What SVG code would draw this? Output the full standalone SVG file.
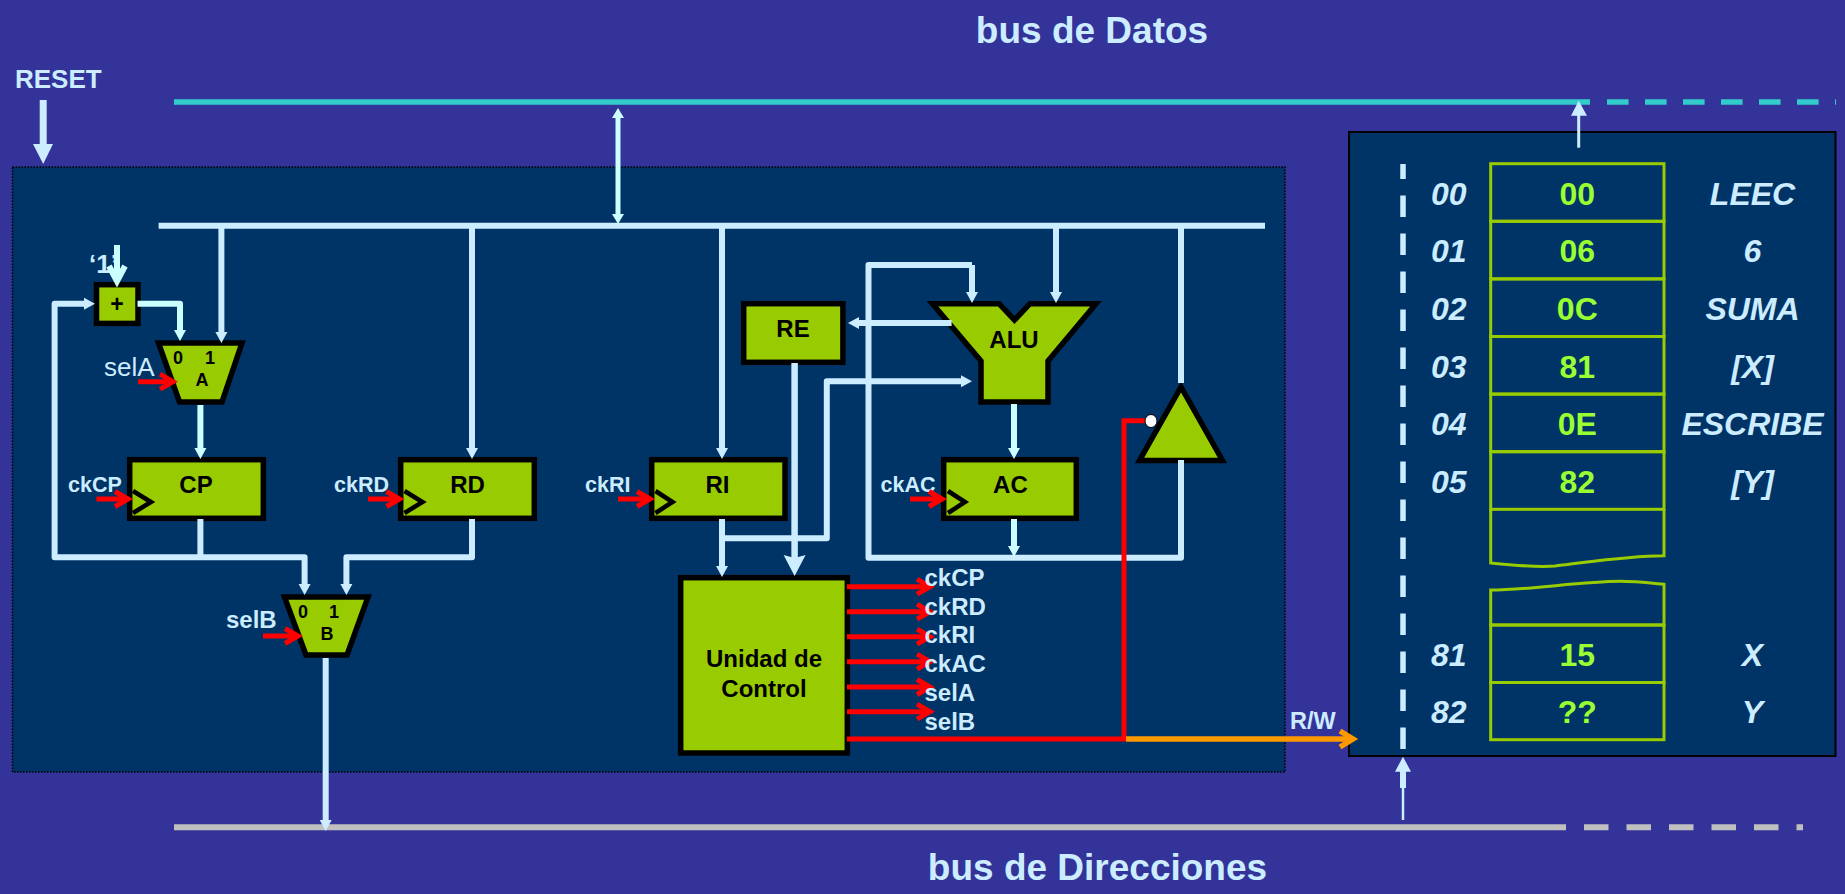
<svg xmlns="http://www.w3.org/2000/svg" width="1845" height="894" viewBox="0 0 1845 894">
<style>
text{font-family:"Liberation Sans",Arial,sans-serif;font-weight:bold}
.box{fill:#99CC00;stroke:#000;stroke-width:5.5}
.t{fill:#000;font-size:24px;text-anchor:middle}
.s{fill:#000;font-size:18px;text-anchor:middle}
.l{fill:#CCECFF}
.sig{font-size:24px}
.ck{font-size:21.5px}
.w{fill:none;stroke:#CCECFF;stroke-width:6;stroke-linejoin:round;marker-end:url(#h)}
.w2{fill:none;stroke:#CCFFFF;stroke-width:6;stroke-linejoin:round;marker-end:url(#h2)}
.p{fill:none;stroke:#CCECFF;stroke-width:6;stroke-linejoin:round}
.r{fill:none;stroke:#FF0000;stroke-width:5;marker-end:url(#rc)}
.cl{fill:none;stroke:#000;stroke-width:4.5}
.cell{fill:none;stroke:#99CC00;stroke-width:3}
.ad{font-size:32px;font-style:italic;fill:#CCECFF}
.va{font-size:32px;fill:#99FF33;text-anchor:middle}
.nm{font-size:32px;font-style:italic;fill:#CCECFF;text-anchor:middle}
</style>
<defs>
<marker id="h" markerUnits="userSpaceOnUse" markerWidth="12" markerHeight="12" refX="0" refY="0" orient="auto" overflow="visible"><path d="M0,-6 L11,0 L0,6Z" fill="#CCECFF"/></marker>
<marker id="h2" markerUnits="userSpaceOnUse" markerWidth="12" markerHeight="12" refX="0" refY="0" orient="auto" overflow="visible"><path d="M0,-6 L11,0 L0,6Z" fill="#CCFFFF"/></marker>
<marker id="hb" markerUnits="userSpaceOnUse" markerWidth="12" markerHeight="12" refX="0" refY="0" orient="auto-start-reverse" overflow="visible"><path d="M0,-6 L10,0 L0,6Z" fill="#CCFFFF"/></marker>
<marker id="hl" markerUnits="userSpaceOnUse" markerWidth="24" markerHeight="24" refX="0" refY="0" orient="auto" overflow="visible"><path d="M-3,-11 L18,0 L-3,11 L0,0Z" fill="#CCECFF"/></marker>
<marker id="rc" markerUnits="userSpaceOnUse" markerWidth="16" markerHeight="16" refX="0" refY="0" orient="auto" overflow="visible"><path d="M-13,-7.5 L0,0 L-13,7.5" fill="none" stroke="#FF0000" stroke-width="5"/></marker>
<marker id="oc" markerUnits="userSpaceOnUse" markerWidth="16" markerHeight="16" refX="0" refY="0" orient="auto" overflow="visible"><path d="M-13,-8 L0,0 L-13,8" fill="none" stroke="#FF9900" stroke-width="5.5"/></marker>
</defs>
<rect id="background" width="1845" height="894" fill="#333399"/>
<text x="1092" y="43" font-size="37" fill="#CCECFF" text-anchor="middle">bus de Datos</text>
<text x="1097.5" y="880" font-size="37" fill="#CCECFF" text-anchor="middle">bus de Direcciones</text>
<text x="15" y="88" font-size="26" fill="#CCECFF">RESET</text>
<g id="cpu-panel"><rect x="12.5" y="167" width="1272.5" height="605" fill="#003366" stroke="#000" stroke-width="1.5" stroke-dasharray="1.5 1.5"/></g>

<g id="memory">
<rect x="1349" y="132" width="486.5" height="624" fill="#003366" stroke="#000" stroke-width="2"/>
<g id="mem-cells">
<rect class="cell" x="1490.7" y="163.7" width="173.3" height="57.6"/>
<rect class="cell" x="1490.7" y="221.3" width="173.3" height="57.6"/>
<rect class="cell" x="1490.7" y="278.9" width="173.3" height="57.6"/>
<rect class="cell" x="1490.7" y="336.5" width="173.3" height="57.6"/>
<rect class="cell" x="1490.7" y="394.1" width="173.3" height="57.6"/>
<rect class="cell" x="1490.7" y="451.7" width="173.3" height="57.6"/>
<path class="cell" d="M1490.7,509.3 V563 C1515,565.5 1535,567.5 1555,566 C1590,562 1625,556 1664,555.7 V509.3"/>
<path class="cell" d="M1490.7,625 V590 C1530,590 1580,581.5 1620,581.3 C1635,581.3 1650,583 1664,584.3 V625 Z"/>
<rect class="cell" x="1490.7" y="625" width="173.3" height="57.5"/>
<rect class="cell" x="1490.7" y="682.5" width="173.3" height="57.2"/>
</g>
<line x1="1403" y1="164" x2="1403" y2="750" stroke="#CCECFF" stroke-width="5.5" stroke-dasharray="21.6 16.4" stroke-dashoffset="6.6"/>
<text class="ad" x="1431" y="205">00</text><text class="ad" x="1431" y="262">01</text><text class="ad" x="1431" y="320">02</text><text class="ad" x="1431" y="378">03</text><text class="ad" x="1431" y="435">04</text><text class="ad" x="1431" y="493">05</text><text class="ad" x="1431" y="666">81</text><text class="ad" x="1431" y="723">82</text>
<text class="va" x="1577.3" y="205">00</text><text class="va" x="1577.3" y="262">06</text><text class="va" x="1577.3" y="320">0C</text><text class="va" x="1577.3" y="378">81</text><text class="va" x="1577.3" y="435">0E</text><text class="va" x="1577.3" y="493">82</text><text class="va" x="1577.3" y="666">15</text><text class="va" x="1577.3" y="723">??</text>
<text class="nm" x="1752.5" y="205">LEEC</text><text class="nm" x="1752.5" y="262">6</text><text class="nm" x="1752.5" y="320">SUMA</text><text class="nm" x="1752.5" y="378">[X]</text><text class="nm" x="1752.5" y="435">ESCRIBE</text><text class="nm" x="1752.5" y="493">[Y]</text><text class="nm" x="1752.5" y="666">X</text><text class="nm" x="1752.5" y="723">Y</text>
</g>

<g id="adder">
<text x="89" y="273" font-size="26" fill="#CCECFF">‘1’</text>
<rect class="box" x="96.5" y="284.7" width="41.5" height="38.7"/>
<text x="117" y="311.5" font-size="23" text-anchor="middle" fill="#000">+</text>
</g>
<g id="muxA">
<polygon class="box" points="158.5,343 242,343 222,402 179.5,402"/>
<text class="s" x="178" y="364">0</text><text class="s" x="210" y="364">1</text><text class="s" x="202" y="386">A</text>
<text x="104" y="376" font-size="26" fill="#CCECFF" style="font-weight:normal">selA</text>
</g>
<g id="CP">
<rect class="box" x="129.7" y="459.7" width="133.6" height="58.6"/>
<text class="t" x="196" y="492.7">CP</text>
<polyline class="cl" points="133,491 151,502 133,513"/>
<text class="l ck" x="68" y="492">ckCP</text>
</g>
<g id="RD">
<rect class="box" x="400.7" y="459.7" width="133.6" height="58.6"/>
<text class="t" x="467.5" y="492.7">RD</text>
<polyline class="cl" points="404.5,491 422.5,502 404.5,513"/>
<text class="l ck" x="334" y="492">ckRD</text>
</g>
<g id="muxB">
<polygon class="box" points="284.5,597 368,597 347,655 306,655"/>
<text class="s" x="303" y="618">0</text><text class="s" x="334" y="618">1</text><text class="s" x="327" y="640">B</text>
<text class="l" x="226" y="628" font-size="24">selB</text>
</g>
<g id="RI">
<rect class="box" x="651.7" y="459.7" width="133.3" height="58.6"/>
<text class="t" x="717.5" y="492.7">RI</text>
<polyline class="cl" points="655.5,491 672.5,502 655.5,513"/>
<text class="l ck" x="585" y="492">ckRI</text>
</g>
<g id="RE">
<rect class="box" x="743.7" y="303.7" width="99.2" height="58.6"/>
<text class="t" x="793" y="336.7">RE</text>
</g>
<g id="ALU">
<polygon class="box" points="932.5,303.7 999,303.7 1014.5,320 1030,303.7 1096,303.7 1048,361 1048,402 981,402 981,361" stroke-miterlimit="6"/>
<text class="t" x="1014" y="348">ALU</text>
</g>
<g id="AC">
<rect class="box" x="943.7" y="459.7" width="132.6" height="58.6"/>
<text class="t" x="1010.4" y="492.7">AC</text>
<polyline class="cl" points="948,491 965,502 948,513"/>
<text class="l ck" x="880.5" y="492">ckAC</text>
</g>
<g id="buffer">
<polygon class="box" points="1181,387 1222.5,460.5 1139.5,460.5" stroke-miterlimit="6"/>
</g>
<g id="control-unit">
<rect class="box" x="680.7" y="577.7" width="166.6" height="175.3"/>
<text class="t" x="764" y="667.3">Unidad de</text>
<text class="t" x="764" y="696.7">Control</text>
</g>

<g id="connectors">
<line x1="174" y1="102" x2="1590" y2="102" stroke="#33CCCC" stroke-width="5.7"/>
<line x1="1607" y1="102" x2="1836" y2="102" stroke="#33CCCC" stroke-width="5.7" stroke-dasharray="21.6 16.4"/>
<line x1="174" y1="827.3" x2="1566" y2="827.3" stroke="#C0C0C0" stroke-width="6"/>
<line x1="1584" y1="827.3" x2="1803" y2="827.3" stroke="#C0C0C0" stroke-width="6" stroke-dasharray="24.5 18"/>
<line x1="158.6" y1="225.7" x2="1265" y2="225.7" stroke="#CCECFF" stroke-width="6"/>
<line x1="618" y1="118" x2="618" y2="214" stroke="#CCFFFF" stroke-width="5" marker-start="url(#hb)" marker-end="url(#hb)"/>
<path d="M43.2,100 V144" fill="none" stroke="#CCECFF" stroke-width="7"/>
<polygon points="33,144 53,144 43.2,164" fill="#CCECFF"/>
<path class="w" d="M221.4,226 V332"/>
<path class="w" d="M472,226 V448"/>
<path class="w" d="M722,226 V448"/>
<path class="w" d="M1056,226 V292"/>
<path class="p" d="M1181,226 V383"/>
<path class="p" d="M1181,460 V557.7 H868.5 V265 H972"/>
<path class="w" d="M972,265 V292"/>
<path class="w2" d="M1014,404 V448"/>
<path class="w2" d="M1014,519 V546"/>
<path class="w" d="M951.6,323 H859"/>
<path d="M794.6,363 V558" fill="none" stroke="#CCECFF" stroke-width="6.5" marker-end="url(#hl)"/>
<path class="w" d="M722,519 V566"/>
<path class="w" d="M722,538.3 H826.8 V381.3 H961"/>
<path class="w" d="M200.4,519 V557.3 H304.6 V584"/>
<path class="w" d="M200.4,557.3 H54.6 V303.7 H84"/>
<path class="w" d="M472,519 V557.3 H346.4 V584"/>
<path class="w2" d="M137.5,303.7 H180 V330"/>
<path class="w2" d="M200.4,405 V448"/>
<path class="w" d="M325.7,658 V820"/>
<path d="M117,245 V280" fill="none" stroke="#CCFFFF" stroke-width="6"/>
<polyline points="109,266 117,281 125,266" fill="none" stroke="#CCFFFF" stroke-width="6"/>
<path class="r" d="M138,381.7 H173"/>
<path class="r" d="M263,636 H298"/>
<path class="r" d="M96.4,499 H128"/>
<path class="r" d="M368,499 H399.5"/>
<path class="r" d="M618,499 H650"/>
<path class="r" d="M910,499 H942"/>
<path class="r" d="M847,586.7 H930"/>
<path class="r" d="M847,611.7 H930"/>
<path class="r" d="M847,636.7 H930"/>
<path class="r" d="M847,661.7 H930"/>
<path class="r" d="M847,687 H930"/>
<path class="r" d="M847,711.7 H930"/>
<path d="M847,739 H1124 V420.7 H1147" fill="none" stroke="#FF0000" stroke-width="5"/>
<path d="M1126,739 H1353" fill="none" stroke="#FF9900" stroke-width="5.5" marker-end="url(#oc)"/>
<ellipse cx="1151" cy="421" rx="6" ry="6.5" fill="#fff" stroke="#000" stroke-width="1"/>
<line x1="1578.7" y1="147.7" x2="1578.7" y2="115" stroke="#CCECFF" stroke-width="3"/>
<polygon points="1571,115.7 1587,115.7 1578.7,100.7" fill="#CCECFF"/>
<line x1="1403" y1="820" x2="1403" y2="788" stroke="#CCECFF" stroke-width="2.5"/>
<line x1="1403" y1="788" x2="1403" y2="771" stroke="#CCECFF" stroke-width="6"/>
<polygon points="1395,771.7 1411,771.7 1403,756.7" fill="#CCECFF"/>
</g>

<g id="signal-labels">
<text class="l sig" x="924.5" y="586">ckCP</text>
<text class="l sig" x="924.5" y="615">ckRD</text>
<text class="l sig" x="924.5" y="643">ckRI</text>
<text class="l sig" x="924.5" y="671.7">ckAC</text>
<text class="l sig" x="924.5" y="700.7">selA</text>
<text class="l sig" x="924.5" y="730">selB</text>
<text class="l" x="1290" y="729" font-size="23.5">R/W</text>
</g>
</svg>
